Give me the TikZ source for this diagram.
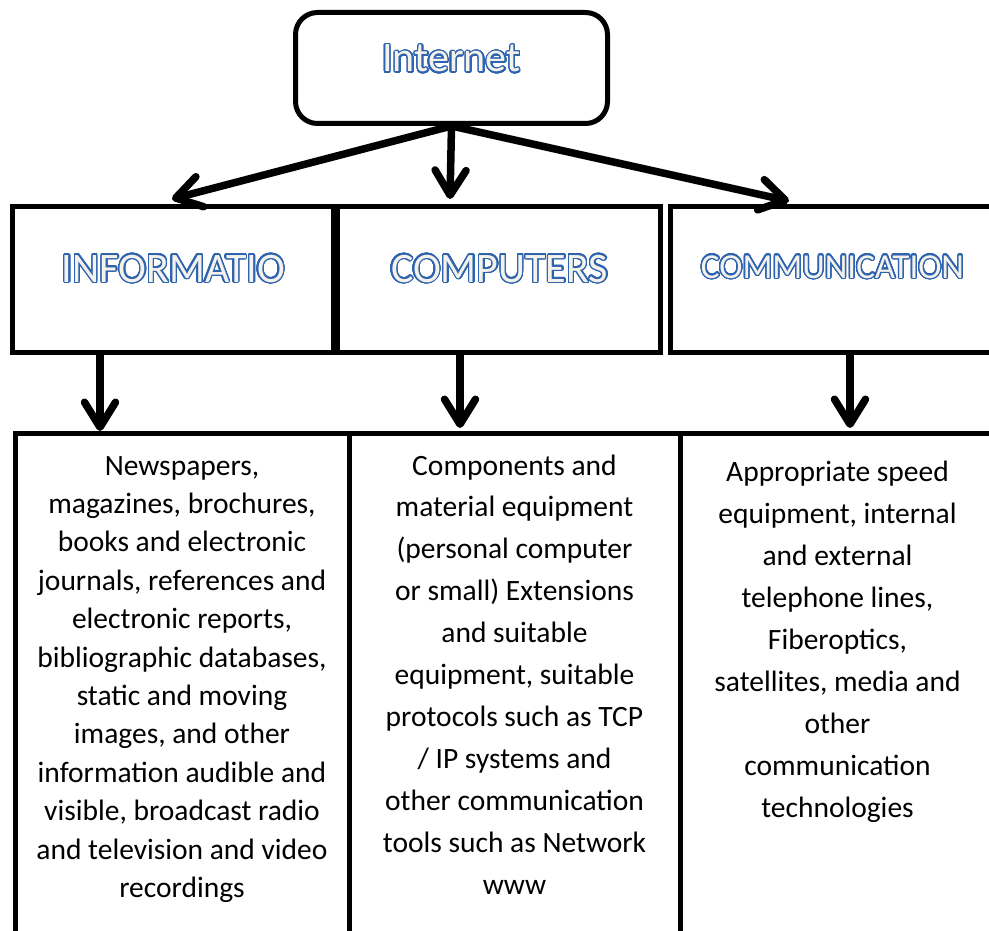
\documentclass[tikz,border=0pt]{standalone}
\usepackage{fontspec}
\setmainfont{Carlito}
\usepackage[copies]{contour}
\usetikzlibrary{arrows.meta}

\definecolor{titleblue}{HTML}{2E63B0}
\definecolor{titlefill}{HTML}{F4F2EA}
\contourlength{1.4pt}
\contournumber{32}

% outlined heading text: blue rim, pale fill
\newcommand\rimtext[1]{\contour{titleblue}{\textcolor{titlefill}{#1}}}

\begin{document}
\begin{tikzpicture}[x=1pt,y=-1pt,
  frame/.style={draw=black, line width=5pt, inner sep=0pt},
  arrowline/.style={line width=7.5pt, line cap=round,
    -{Straight Barb[length=25pt,width=31pt,round]}},
  bigtitle/.style={font=\fontsize{42}{50}\selectfont, inner sep=0pt, anchor=base},
  smalltitle/.style={font=\fontsize{35}{42}\selectfont, inner sep=0pt, anchor=base},
  bodytext/.style={align=center, inner sep=0pt, anchor=base},
]
\path[use as bounding box, clip] (0,0) rectangle (989,931);
\fill[white] (0,0) rectangle (989,931);

% top box
\node[frame, rounded corners=22pt, minimum width=312pt, minimum height=111pt]
  (internet) at (451.5,68) {};
\node[bigtitle] (internetLabel) at (451.5,72) {\rimtext{Internet}};

% heading boxes
\node[frame, minimum width=320.5pt, minimum height=145pt] (info) at (172.75,279.5) {};
\node[frame, minimum width=323pt, minimum height=145pt] (comp) at (499,279.5) {};
\node[frame, minimum width=325pt, minimum height=145pt] (comm) at (832.5,279.5) {};
\node[bigtitle] (infoLabel) at (173.5,282) {\rimtext{INFORMATIO}};
\node[bigtitle] (compLabel) at (499.5,282) {\rimtext{COMPUTERS}};
\node[smalltitle] (commLabel) at (832.5,278) {\rimtext{COMMUNICATION}};

% detail boxes
\node[frame, minimum width=334pt, minimum height=527pt] (infoBody) at (182,696.5) {};
\node[frame, minimum width=331pt, minimum height=527pt] (compBody) at (514.5,696.5) {};
\node[frame, minimum width=315pt, minimum height=527pt] (commBody) at (837.5,696.5) {};

% body texts, placed by the baseline of their last line
\node[bodytext, font=\fontsize{29.5}{38.4}\selectfont] (infoText) at (182,897.4) {%
Newspapers,\\ magazines, brochures,\\ books and electronic\\ journals, references and\\
electronic reports,\\ bibliographic databases,\\ static and moving\\ images, and other\\
information audible and\\ visible, broadcast radio\\ and television and video\\ recordings};
\node[bodytext, font=\fontsize{29.5}{41.9}\selectfont] (compText) at (514.5,894) {%
Components and\\ material equipment\\ (personal computer\\ or small) Extensions\\
and suitable\\ equipment, suitable\\ protocols such as TCP\\ / IP systems and\\
other communication\\ tools such as Network\\ www};
\node[bodytext, font=\fontsize{29.5}{42.1}\selectfont] (commText) at (837.5,817.8) {%
Appropriate speed\\ equipment, internal\\ and external\\ telephone lines,\\
Fiberoptics,\\ satellites, media and\\ other\\ communication\\ technologies};

% arrow tips
\coordinate (tipInfo) at (172,199);
\coordinate (tipComp) at (450,199);
\coordinate (tipComm) at (789,201);
\coordinate (downInfo) at (100,431);
\coordinate (downComp) at (460,428);
\coordinate (downComm) at (850,428);

% connectors
\draw[arrowline] (internet.south) -- (tipInfo);
\draw[arrowline] (internet.south) -- (tipComp);
\draw[arrowline] (internet.south) -- (tipComm);
\draw[arrowline] (info.south -| downInfo) -- (downInfo);
\draw[arrowline] (comp.south -| downComp) -- (downComp);
\draw[arrowline] (comm.south -| downComm) -- (downComm);
\end{tikzpicture}
\end{document}
